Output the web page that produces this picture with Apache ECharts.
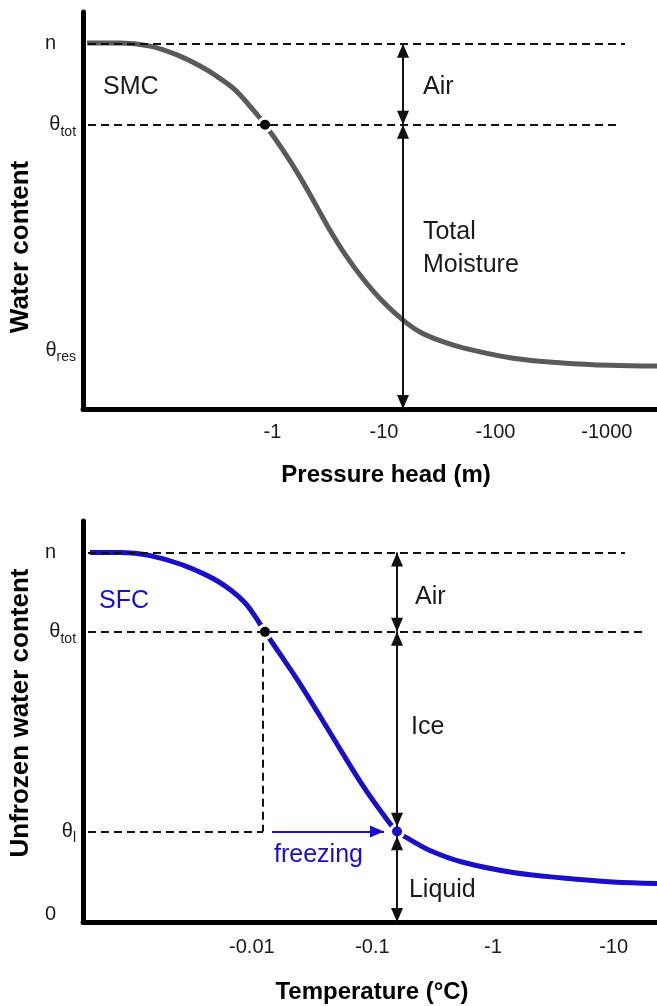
<!DOCTYPE html>
<html><head><meta charset="utf-8">
<script src="https://cdn.jsdelivr.net/npm/echarts@6/dist/echarts.min.js"></script>
<style>html,body{margin:0;padding:0;background:#fff}#c{width:657px;height:1006px}</style>
</head><body><div id="c"></div>
<script>
// ---------- Top panel: soil moisture characteristic (SMC) ----------
// x = log10(|pressure head| in m)
const smcLogHead = [-1.664,-1.368,-1.099,-0.857,-0.650,-0.498,-0.336,-0.175,-0.067,0.094,0.247,0.381,0.516,0.650,0.812,0.992,1.171,1.323,1.503,1.709,2.158,2.606,3.028,3.450];
const smcTheta   = [0.461,0.461,0.457,0.446,0.432,0.419,0.402,0.377,0.358,0.326,0.292,0.259,0.225,0.195,0.164,0.135,0.112,0.097,0.086,0.077,0.064,0.058,0.055,0.054];
const pressureTickExp = [0, 1, 2, 3];
const pressureTickLabels = ['-1', '-10', '-100', '-1000'];
const smcLevelValues = [0.46, 0.358, 0.074];
const smcLevelLabels = ['{n|n}', '{m|θ}{s|tot}', '{m|θ}{s|res}'];
const smcDot = [-0.067, 0.358];
const smcArrowX = 1.171;
const smcGuideStart = -1.655;
const smcGuideEnd = [3.163, 3.118];
const smcAnnoText = ['SMC', 'Air', 'Total\nMoisture'];
const smcAnnoX = [-1.521, 1.350, 1.350];
const smcAnnoY = [0.406, 0.406, 0.202];

// ---------- Bottom panel: soil freezing characteristic (SFC) ----------
// x = log10(|temperature| in °C)
const sfcLogTemp = [-3.342,-3.093,-2.844,-2.571,-2.430,-2.289,-2.165,-2.057,-1.974,-1.891,-1.767,-1.626,-1.435,-1.269,-1.078,-0.912,-0.796,-0.713,-0.523,-0.249,0.166,0.580,0.995,1.360];
const sfcTheta   = [0.460,0.460,0.456,0.444,0.435,0.424,0.411,0.396,0.379,0.359,0.331,0.299,0.252,0.210,0.163,0.127,0.105,0.097,0.081,0.066,0.053,0.046,0.041,0.039];
const tempTickExp = [-2, -1, 0, 1];
const tempTickLabels = ['-0.01', '-0.1', '-1', '-10'];
const sfcLevelValues = [0.46, 0.359, 0.105, 0];
const sfcLevelLabels = ['{n|n}', '{m|θ}{s|tot}', '{m|θ}{s|l}', '{n|0}'];
const sfcDotTot = [-1.891, 0.359];
const sfcDotLiq = [-0.796, 0.105];
const sfcArrowX = -0.796;
const sfcGuideStart = -3.359;
const sfcGuideEnd = [1.094, 1.260, -1.907];
const sfcFreezeX = [-1.833, -0.904];
const sfcAnnoText = ['SFC', 'Air', 'Ice', 'Liquid', 'freezing'];
const sfcAnnoX = [-3.267, -0.647, -0.680, -0.697, -1.816];
const sfcAnnoY = [0.398, 0.403, 0.238, 0.031, 0.075];

const FONT = 'Liberation Sans, Arial, sans-serif';
const BLUE = '#1a0ecb';
const GRAY = '#5a5a5a';
const INK = '#1a1a1a';

const dashed = { color: '#111', width: 2, type: [8, 5] };
const thin = { color: '#111', width: 2, type: 'solid' };
const arrowOffset = [[0, '50%'], [0, '50%']];

function seg(p1, p2, style, s1, s2) {
  return [
    { coord: p1, symbol: s1 || 'none', lineStyle: style },
    { coord: p2, symbol: s2 || 'none', lineStyle: style }
  ];
}

const richY = {
  m: { fontSize: 20, lineHeight: 20, verticalAlign: 'top', color: INK, fontFamily: FONT },
  s: { fontSize: 14, lineHeight: 14, padding: [10, 0, 0, 0], verticalAlign: 'top', color: INK, fontFamily: FONT },
  n: { fontSize: 20, lineHeight: 20, padding: [0, 20, 0, 0], color: INK, fontFamily: FONT }
};

function xAxisCfg(gridIndex, min, max, ticks, labels, name, margin, nameGap, namePad) {
  return {
    type: 'value', gridIndex, min, max,
    axisLine: { show: true, onZero: false, lineStyle: { color: '#000', width: 5 } },
    axisTick: { show: false }, splitLine: { show: false },
    axisLabel: {
      customValues: ticks, margin,
      formatter: v => labels[ticks.indexOf(v)] ?? '',
      fontSize: 20, color: INK, fontFamily: FONT
    },
    name, nameLocation: 'middle', nameGap,
    nameTextStyle: { fontSize: 24, fontWeight: 'bold', color: '#000', fontFamily: FONT, padding: namePad }
  };
}
function yAxisCfg(gridIndex, min, max, ticks, labels, name, nameGap, namePad) {
  return {
    type: 'value', gridIndex, min, max,
    axisLine: { show: true, onZero: false, lineStyle: { color: '#000', width: 5 } },
    axisTick: { show: false }, splitLine: { show: false },
    axisLabel: {
      customValues: ticks, margin: 7,
      formatter: v => labels[ticks.indexOf(v)] ?? '',
      rich: richY
    },
    name, nameLocation: 'middle', nameRotate: 90, nameGap,
    nameTextStyle: { fontSize: 26, fontWeight: 'bold', color: '#000', fontFamily: FONT, padding: namePad }
  };
}

function annoSeries(xi, texts, xs, ys, colors) {
  return {
    type: 'scatter', xAxisIndex: xi, yAxisIndex: xi, symbolSize: 0, silent: true, z: 5,
    itemStyle: { opacity: 1 },
    data: texts.map((t, i) => ({
      value: [xs[i], ys[i]],
      label: { show: true, position: 'right', distance: 0, formatter: t,
        fontSize: 25, lineHeight: 33, color: colors[i], fontFamily: FONT, opacity: 1 }
    }))
  };
}

const topLines = [
  seg([smcGuideStart, smcLevelValues[0]], [smcGuideEnd[0], smcLevelValues[0]], dashed),
  seg([smcGuideStart, smcLevelValues[1]], [smcGuideEnd[1], smcLevelValues[1]], dashed),
  seg([smcArrowX, smcLevelValues[0]], [smcArrowX, smcLevelValues[1]], thin, 'triangle', 'triangle'),
  seg([smcArrowX, smcLevelValues[1]], [smcArrowX, 0], thin, 'triangle', 'triangle')
];
const botLines = [
  seg([sfcGuideStart, sfcLevelValues[0]], [sfcGuideEnd[0], sfcLevelValues[0]], dashed),
  seg([sfcGuideStart, sfcLevelValues[1]], [sfcGuideEnd[1], sfcLevelValues[1]], dashed),
  seg([sfcGuideStart, sfcLevelValues[2]], [sfcGuideEnd[2], sfcLevelValues[2]], dashed),
  seg([sfcGuideEnd[2], 0.345], [sfcGuideEnd[2], sfcLevelValues[2]], dashed),
  seg([sfcArrowX, sfcLevelValues[0]], [sfcArrowX, sfcLevelValues[1]], thin, 'triangle', 'triangle'),
  seg([sfcArrowX, sfcLevelValues[1]], [sfcArrowX, 0.111], thin, 'triangle', 'triangle'),
  seg([sfcArrowX, 0.099], [sfcArrowX, -0.01], thin, 'triangle', 'triangle'),
  seg([sfcFreezeX[0], sfcLevelValues[2]], [sfcFreezeX[1], sfcLevelValues[2]], { color: BLUE, width: 2, type: 'solid' }, 'none', 'triangle')
];

const markLineBase = {
  silent: true, symbol: ['none', 'none'], symbolSize: [12, 14], symbolOffset: arrowOffset,
  label: { show: false }, emphasis: { disabled: true }
};

const option = {
  animation: false,
  backgroundColor: '#fff',
  grid: [
    { left: 83, right: 0, top: 12, height: 397 },
    { left: 83, right: 0, top: 521, height: 401 }
  ],
  xAxis: [
    xAxisCfg(0, -1.7, 3.45, pressureTickExp, pressureTickLabels, 'Pressure head (m)', 13, 54, [0, 0, 0, 32]),
    xAxisCfg(1, -3.4, 1.36, tempTickExp, tempTickLabels, 'Temperature (°C)', 15, 58, [0, 0, 0, 4])
  ],
  yAxis: [
    yAxisCfg(0, 0, 0.5, smcLevelValues, smcLevelLabels, 'Water content', 47, [0, 73, 0, 0]),
    yAxisCfg(1, -0.01, 0.5, sfcLevelValues, sfcLevelLabels, 'Unfrozen water content', 48, [0, 0, 0, 17])
  ],
  series: [
    { type: 'line', xAxisIndex: 0, yAxisIndex: 0, data: [], silent: true,
      markLine: Object.assign({ data: topLines }, markLineBase) },
    { type: 'line', xAxisIndex: 0, yAxisIndex: 0, smooth: 0.35, showSymbol: false, silent: true, z: 3,
      lineStyle: { color: GRAY, width: 5 },
      data: smcLogHead.map((x, i) => [x, smcTheta[i]]) },
    { type: 'scatter', xAxisIndex: 0, yAxisIndex: 0, silent: true, z: 4, symbolSize: 13,
      itemStyle: { color: '#000', borderColor: '#fff', borderWidth: 3, opacity: 1 }, data: [smcDot] },
    annoSeries(0, smcAnnoText, smcAnnoX, smcAnnoY, [INK, INK, INK]),

    { type: 'line', xAxisIndex: 1, yAxisIndex: 1, data: [], silent: true,
      markLine: Object.assign({ data: botLines }, markLineBase) },
    { type: 'line', xAxisIndex: 1, yAxisIndex: 1, smooth: 0.35, showSymbol: false, silent: true, z: 3,
      lineStyle: { color: BLUE, width: 5 },
      data: sfcLogTemp.map((x, i) => [x, sfcTheta[i]]) },
    { type: 'scatter', xAxisIndex: 1, yAxisIndex: 1, silent: true, z: 4, symbolSize: 13,
      itemStyle: { borderColor: '#fff', borderWidth: 3, opacity: 1 },
      data: [
        { value: sfcDotTot, itemStyle: { color: '#000' } },
        { value: sfcDotLiq, itemStyle: { color: BLUE } }
      ] },
    annoSeries(1, sfcAnnoText, sfcAnnoX, sfcAnnoY, [BLUE, INK, INK, INK, BLUE])
  ]
};

const chart = echarts.init(document.getElementById('c'), null, { renderer: 'canvas' });
chart.setOption(option);
</script>
</body></html>
